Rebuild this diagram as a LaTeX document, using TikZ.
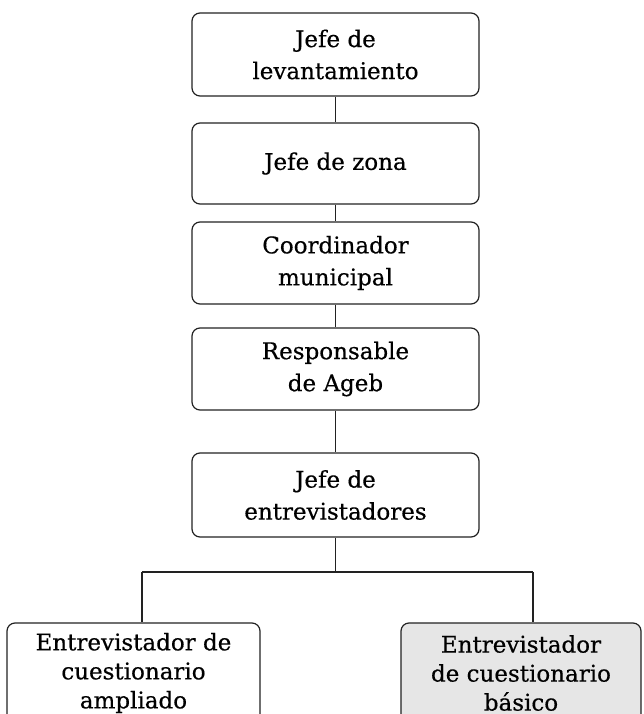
\documentclass[tikz,border=0pt]{standalone}
\usepackage{fontspec}
\setmainfont[FakeBold=0.5]{DejaVu Serif}
\definecolor{linegray}{HTML}{222222}
\definecolor{boxgray}{HTML}{E6E6E6}
\tikzset{
  orgbox/.style={draw=linegray, line width=1.2pt, rounded corners=8pt, align=center,
    font=\fontsize{23}{32}\selectfont, inner sep=0pt},
  lowbox/.style={orgbox, font=\fontsize{23}{29}\selectfont},
  conn/.style={draw=linegray, line width=1.2pt}
}
\begin{document}
\begin{tikzpicture}[x=1pt,y=-1pt]
\useasboundingbox (0,0) rectangle (644,714);
\clip (0,0) rectangle (644,714);
\node[orgbox, minimum width=287pt, minimum height=83pt] (b1) at (335.5,54.5) {Jefe de\\levantamiento};
\node[orgbox, minimum width=287pt, minimum height=81pt] (b2) at (335.5,163.5) {Jefe de zona};
\node[orgbox, minimum width=287pt, minimum height=82pt] (b3) at (335.5,263) {Coordinador\\municipal};
\node[orgbox, minimum width=287pt, minimum height=82pt] (b4) at (335.5,369) {Responsable\\de Ageb};
\node[orgbox, minimum width=287pt, minimum height=84pt] (b5) at (335.5,495) {Jefe de\\entrevistadores};
\node[lowbox, minimum width=253pt, minimum height=100pt] (lb) at (133.5,673) {Entrevistador de\\cuestionario\\ampliado};
\node[lowbox, fill=boxgray, minimum width=240pt, minimum height=100pt] (rb) at (521,673) {Entrevistador\\de cuestionario\\básico};
\coordinate (j) at (335.5,572);
\coordinate (jl) at (142,572);
\coordinate (jr) at (533,572);
\draw[conn] (b1.south) -- (b2.north);
\draw[conn] (b2.south) -- (b3.north);
\draw[conn] (b3.south) -- (b4.north);
\draw[conn] (b4.south) -- (b5.north);
\draw[conn] (b5.south) -- (j);
\draw[conn] (jl) -- (jr);
\draw[conn] (jl) -- (jl |- lb.north);
\draw[conn] (jr) -- (jr |- rb.north);
\end{tikzpicture}
\end{document}
